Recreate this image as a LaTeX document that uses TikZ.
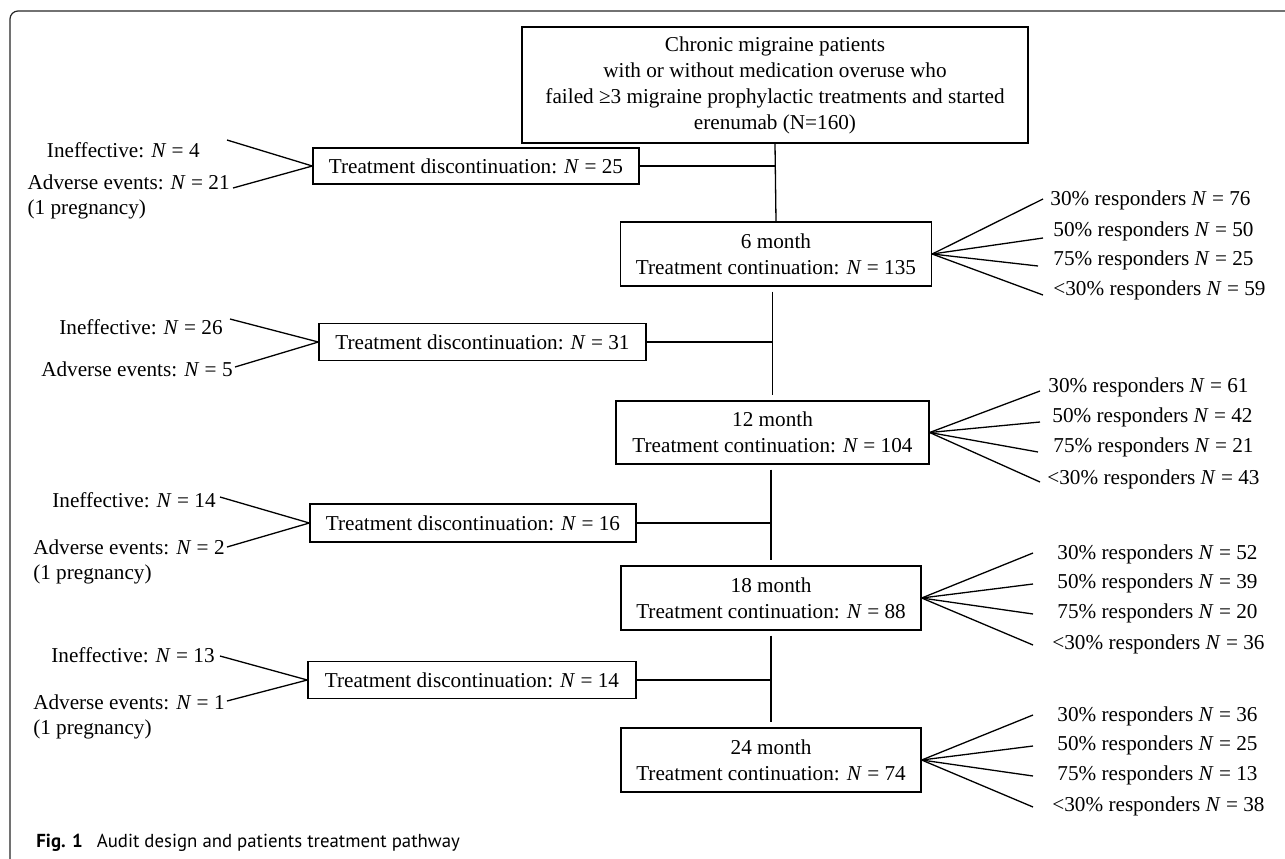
\documentclass[tikz,border=0pt]{standalone}
\usepackage{fontspec}
\setmainfont{Liberation Serif}
\newfontfamily\capfont{PT Sans}
\newcommand\fs{\fontsize{10.6}{13}\selectfont}
\begin{document}
\begin{tikzpicture}[x=0.5pt,y=-0.5pt,
  box/.style={draw=black, line width=0.65pt, inner sep=0pt, align=center, font=\fs},
  lbl/.style={inner sep=0pt, font=\fs, text height=8pt, text depth=1pt},
  ln/.style={line width=0.65pt, black},
  spine/.style={ln, shorten >=2.5pt, shorten <=2.5pt}]
\useasboundingbox (0,0) rectangle (1285,858);
\begin{scope}
\clip (0,0) rectangle (1285,858);
\draw[line width=0.6pt, rounded corners=4pt, black!85] (10,11) rectangle (1320,880);
\end{scope}

% main column
\node[box, minimum width=253pt, minimum height=58pt] (top) at (775,85)
  {Chronic migraine patients\\ with or without medication overuse who\\ failed ≥3 migraine prophylactic treatments and started\\ erenumab (N=160)};
\node[box, minimum width=155.5pt, minimum height=32pt] (m6) at (776,254)
  {6 month\\Treatment continuation: \textit{N} = 135};
\node[box, minimum width=156.5pt, minimum height=31.5pt] (m12) at (772.5,432.5)
  {12 month\\Treatment continuation: \textit{N} = 104};
\node[box, minimum width=150pt, minimum height=32pt] (m18) at (771,598)
  {18 month\\Treatment continuation: \textit{N} = 88};
\node[box, minimum width=150pt, minimum height=32pt] (m24) at (771,760)
  {24 month\\Treatment continuation: \textit{N} = 74};

% discontinuation boxes
\node[box, minimum width=163pt, minimum height=18pt] (d1) at (476,166)
  {Treatment discontinuation: \textit{N} = 25};
\node[box, minimum width=163.5pt, minimum height=18.5pt] (d2) at (482.5,342)
  {Treatment discontinuation: \textit{N} = 31};
\node[box, minimum width=163pt, minimum height=19pt] (d3) at (473,523)
  {Treatment discontinuation: \textit{N} = 16};
\node[box, minimum width=164pt, minimum height=18.5pt] (d4) at (472,680)
  {Treatment discontinuation: \textit{N} = 14};

% spine
\draw[ln] (top.south) -- (m6.north);
\draw[spine] (m12.north |- m6.south) -- (m12.north);
\draw[spine] (m18.north |- m12.south) -- (m18.north);
\draw[spine] (m24.north |- m18.south) -- (m24.north);
\draw[ln] (d1.east) -- (d1.east -| m6.north);
\draw[ln] (d2.east) -- (d2.east -| m12.north);
\draw[ln] (d3.east) -- (d3.east -| m18.north);
\draw[ln] (d4.east) -- (d4.east -| m24.north);

% left labels
\node[lbl, anchor=east] (i1) at (200,150) {Ineffective: \textit{N} = 4};
\node[lbl, anchor=east] (a1) at (230,182) {Adverse events: \textit{N} = 21};
\node[lbl, anchor=north west, yshift=-3.5pt] (p1) at (a1.south west) {(1 pregnancy)};
\coordinate (ci1) at (227,140);
\coordinate (ca1) at (233,188);
\draw[ln] (ci1) -- (d1.west);
\draw[ln] (ca1) -- (d1.west);

\node[lbl, anchor=east] (i2) at (223,327) {Ineffective: \textit{N} = 26};
\node[lbl, anchor=east] (a2) at (233,369) {Adverse events: \textit{N} = 5};
\coordinate (ci2) at (230,319);
\coordinate (ca2) at (235,367);
\draw[ln] (ci2) -- (d2.west);
\draw[ln] (ca2) -- (d2.west);

\node[lbl, anchor=east] (i3) at (216,500) {Ineffective: \textit{N} = 14};
\node[lbl, anchor=east] (a3) at (225,547) {Adverse events: \textit{N} = 2};
\node[lbl, anchor=north west, yshift=-3.5pt] (p3) at (a3.south west) {(1 pregnancy)};
\coordinate (ci3) at (220,497);
\coordinate (ca3) at (227,547);
\draw[ln] (ci3) -- (d3.west);
\draw[ln] (ca3) -- (d3.west);

\node[lbl, anchor=east] (i4) at (215,655) {Ineffective: \textit{N} = 13};
\node[lbl, anchor=east] (a4) at (225,702) {Adverse events: \textit{N} = 1};
\node[lbl, anchor=north west, yshift=-3.5pt] (p4) at (a4.south west) {(1 pregnancy)};
\coordinate (ci4) at (220,656);
\coordinate (ca4) at (227,701);
\draw[ln] (ci4) -- (d4.west);
\draw[ln] (ca4) -- (d4.west);

% fans 6 month
\coordinate (f6a) at (1043,199);
\coordinate (f6b) at (1043,238);
\coordinate (f6c) at (1038,266);
\coordinate (f6d) at (1043,295);
\foreach \c in {f6a,f6b,f6c,f6d} \draw[ln] (m6.east) -- (\c);
\node[lbl, anchor=west] (r6a) at (1050,198) {30\% responders \textit{N} = 76};
\node[lbl, anchor=west] (r6b) at (1053,229) {50\% responders \textit{N} = 50};
\node[lbl, anchor=west] (r6c) at (1053,258) {75\% responders \textit{N} = 25};
\node[lbl, anchor=west] (r6d) at (1053,288) {<30\% responders \textit{N} = 59};

% fans 12 month
\coordinate (f12a) at (1040,391);
\coordinate (f12b) at (1040,422);
\coordinate (f12c) at (1038,452);
\coordinate (f12d) at (1040,482);
\foreach \c in {f12a,f12b,f12c,f12d} \draw[ln] (m12.east) -- (\c);
\node[lbl, anchor=west] (r12a) at (1048,385) {30\% responders \textit{N} = 61};
\node[lbl, anchor=west] (r12b) at (1052,415) {50\% responders \textit{N} = 42};
\node[lbl, anchor=west] (r12c) at (1053,445) {75\% responders \textit{N} = 21};
\node[lbl, anchor=west] (r12d) at (1047,477) {<30\% responders \textit{N} = 43};

% fans 18 month
\coordinate (f18a) at (1033,553);
\coordinate (f18b) at (1033,584);
\coordinate (f18c) at (1033,614);
\coordinate (f18d) at (1033,645);
\foreach \c in {f18a,f18b,f18c,f18d} \draw[ln] (m18.east) -- (\c);
\node[lbl, anchor=west] (r18a) at (1057,552) {30\% responders \textit{N} = 52};
\node[lbl, anchor=west] (r18b) at (1057,581) {50\% responders \textit{N} = 39};
\node[lbl, anchor=west] (r18c) at (1057,611) {75\% responders \textit{N} = 20};
\node[lbl, anchor=west] (r18d) at (1052,642) {<30\% responders \textit{N} = 36};

% fans 24 month
\coordinate (f24a) at (1033,715);
\coordinate (f24b) at (1033,746);
\coordinate (f24c) at (1033,776);
\coordinate (f24d) at (1033,807);
\foreach \c in {f24a,f24b,f24c,f24d} \draw[ln] (m24.east) -- (\c);
\node[lbl, anchor=west] (r24a) at (1057,714) {30\% responders \textit{N} = 36};
\node[lbl, anchor=west] (r24b) at (1057,743) {50\% responders \textit{N} = 25};
\node[lbl, anchor=west] (r24c) at (1057,773) {75\% responders \textit{N} = 13};
\node[lbl, anchor=west] (r24d) at (1052,804) {<30\% responders \textit{N} = 38};

% caption
\node[inner sep=0pt, anchor=base west, font=\capfont\fontsize{9.4}{11}\selectfont] (cap) at (36,847)
  {\textbf{Fig. 1}\hspace{0.75em}Audit design and patients treatment pathway};
\end{tikzpicture}
\end{document}
